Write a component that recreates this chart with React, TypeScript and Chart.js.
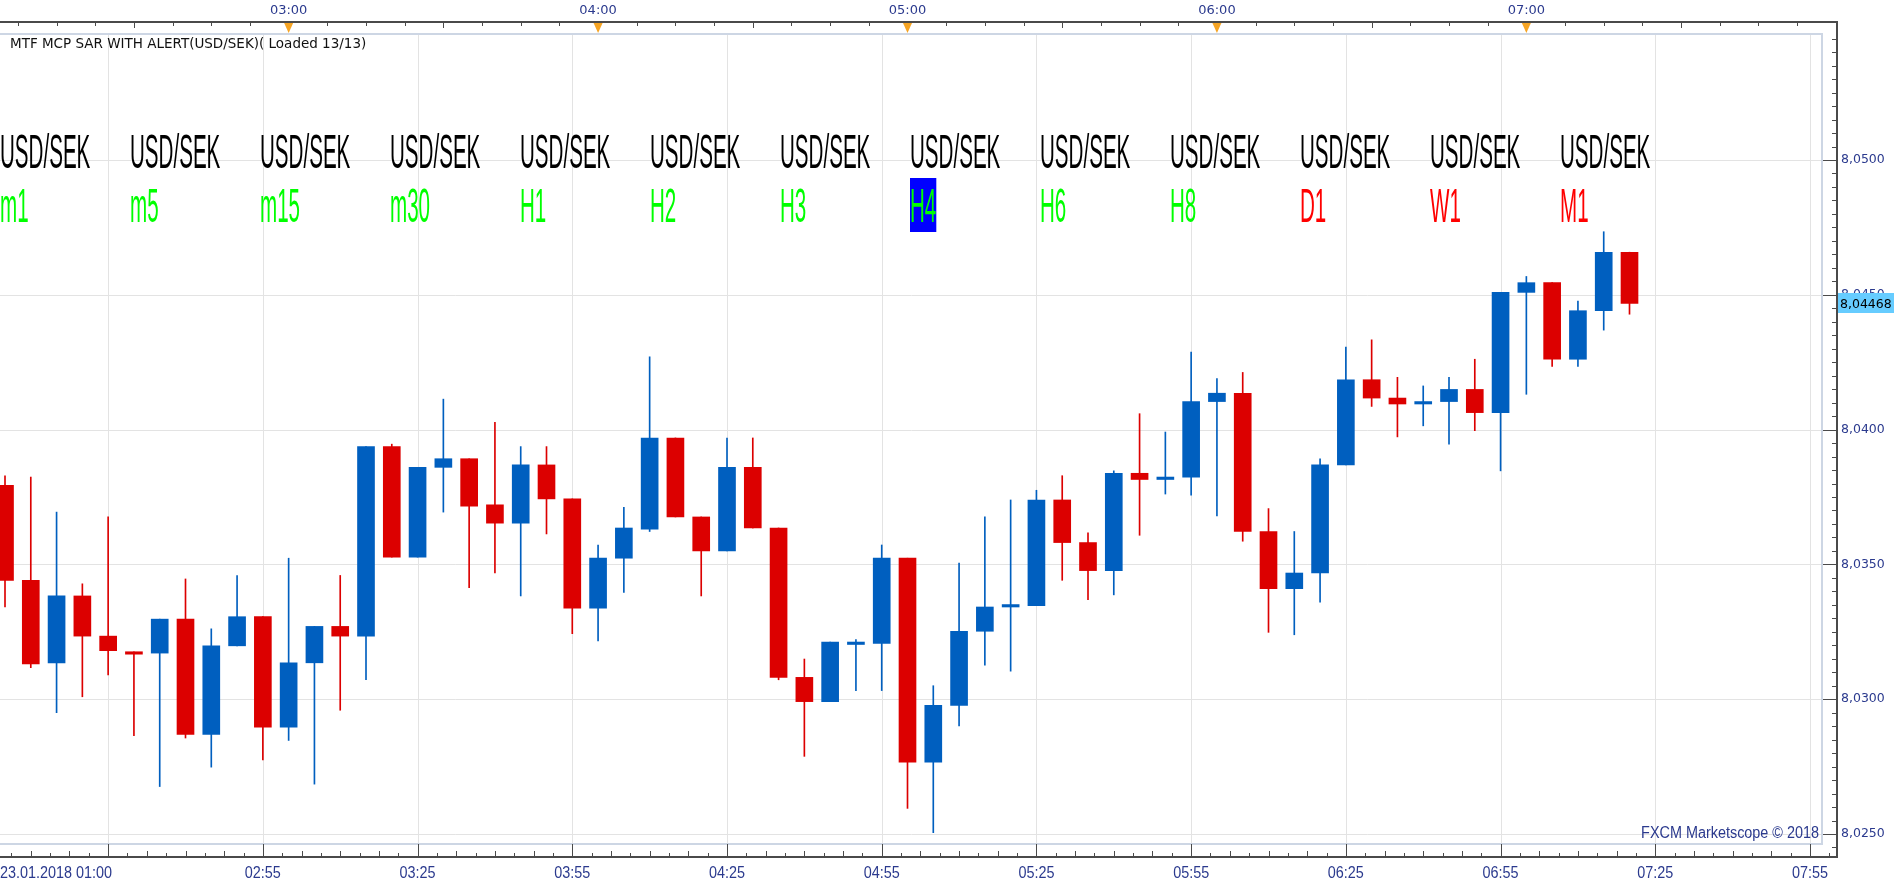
import React, { useEffect, useRef } from 'react';
import { Chart, registerables } from 'chart.js';

Chart.register(...registerables);

// ---------- DATA ----------
const opens = [
  8.03793, 8.03441, 8.03135, 8.03383, 8.03234, 8.03176, 8.03171, 8.03297, 8.02869, 8.03198,
  8.03306, 8.02896, 8.03135, 8.03270, 8.03234, 8.03937, 8.03527, 8.03860, 8.03892, 8.03721,
  8.03653, 8.03869, 8.03743, 8.03338, 8.03523, 8.03631, 8.03969, 8.03676, 8.03550, 8.03860,
  8.03635, 8.03081, 8.02991, 8.03203, 8.03207, 8.03523, 8.02766, 8.02977, 8.03252, 8.03342,
  8.03347, 8.03739, 8.03581, 8.03477, 8.03838, 8.03815, 8.03824, 8.04104, 8.04135, 8.03622,
  8.03410, 8.03468, 8.03869, 8.04185, 8.04117, 8.04095, 8.04104, 8.04149, 8.04063, 8.04509,
  8.04545, 8.04261, 8.04441, 8.04658,
];
const highs = [
  8.03829, 8.03824, 8.03694, 8.03428, 8.03676, 8.03176, 8.03297, 8.03446, 8.03261, 8.03459,
  8.03306, 8.03523, 8.03270, 8.03459, 8.03937, 8.03946, 8.03860, 8.04113, 8.03892, 8.04027,
  8.03937, 8.03937, 8.03743, 8.03572, 8.03712, 8.04270, 8.03969, 8.03676, 8.03969, 8.03969,
  8.03635, 8.03149, 8.03212, 8.03221, 8.03572, 8.03523, 8.03050, 8.03505, 8.03676, 8.03739,
  8.03775, 8.03829, 8.03617, 8.03847, 8.04059, 8.03991, 8.04288, 8.04189, 8.04212, 8.03707,
  8.03622, 8.03892, 8.04306, 8.04333, 8.04194, 8.04162, 8.04194, 8.04261, 8.04509, 8.04568,
  8.04545, 8.04477, 8.04734, 8.04658,
];
const lows = [
  8.03342, 8.03117, 8.02950, 8.03009, 8.03090, 8.02865, 8.02676, 8.02856, 8.02748, 8.03198,
  8.02775, 8.02847, 8.02685, 8.02959, 8.03072, 8.03527, 8.03527, 8.03694, 8.03414, 8.03468,
  8.03383, 8.03613, 8.03243, 8.03216, 8.03396, 8.03622, 8.03676, 8.03383, 8.03550, 8.03635,
  8.03072, 8.02788, 8.02991, 8.03032, 8.03032, 8.02595, 8.02505, 8.02901, 8.03126, 8.03104,
  8.03347, 8.03441, 8.03369, 8.03387, 8.03608, 8.03761, 8.03757, 8.03680, 8.03586, 8.03248,
  8.03239, 8.03360, 8.03869, 8.04086, 8.03973, 8.04014, 8.03946, 8.03996, 8.03847, 8.04131,
  8.04234, 8.04234, 8.04369, 8.04428,
];
const closes = [
  8.03441, 8.03131, 8.03383, 8.03234, 8.03180, 8.03167, 8.03297, 8.02869, 8.03198, 8.03306,
  8.02896, 8.03135, 8.03270, 8.03234, 8.03937, 8.03527, 8.03860, 8.03892, 8.03716, 8.03653,
  8.03869, 8.03743, 8.03338, 8.03523, 8.03635, 8.03969, 8.03676, 8.03550, 8.03860, 8.03635,
  8.03081, 8.02991, 8.03212, 8.03212, 8.03523, 8.02766, 8.02977, 8.03252, 8.03342, 8.03351,
  8.03739, 8.03581, 8.03477, 8.03838, 8.03815, 8.03824, 8.04104, 8.04135, 8.03622, 8.03410,
  8.03468, 8.03869, 8.04185, 8.04117, 8.04095, 8.04104, 8.04149, 8.04063, 8.04509, 8.04545,
  8.04261, 8.04441, 8.04658, 8.04468,
];

const currentPrice = 8.04468;
const yTickValues = [8.025, 8.03, 8.035, 8.04, 8.045, 8.05];
const yTickLabels = ['8,0250', '8,0300', '8,0350', '8,0400', '8,0450', '8,0500'];
const bottomTickIndex = [10, 16, 22, 28, 34, 40, 46, 52, 58, 64, 70];
const bottomTickLabels = ['02:55', '03:25', '03:55', '04:25', '04:55', '05:25', '05:55', '06:25', '06:55', '07:25', '07:55'];
const gridIndex = [4, 10, 16, 22, 28, 34, 40, 46, 52, 58, 64, 70];
const firstDateLabel = '23.01.2018 01:00';
const topTickIndex = [11, 23, 35, 47, 59];
const topTickLabels = ['03:00', '04:00', '05:00', '06:00', '07:00'];
const symbolNames = ['USD/SEK', 'USD/SEK', 'USD/SEK', 'USD/SEK', 'USD/SEK', 'USD/SEK', 'USD/SEK', 'USD/SEK', 'USD/SEK', 'USD/SEK', 'USD/SEK', 'USD/SEK', 'USD/SEK'];
const timeframes = ['m1', 'm5', 'm15', 'm30', 'H1', 'H2', 'H3', 'H4', 'H6', 'H8', 'D1', 'W1', 'M1'];
const timeframeTrend = ['up', 'up', 'up', 'up', 'up', 'up', 'up', 'up', 'up', 'up', 'down', 'down', 'down'];
const highlightedTimeframe = 'H4';
const indicatorTitle = 'MTF MCP SAR WITH ALERT(USD/SEK)( Loaded 13/13)';
const watermark = 'FXCM Marketscope © 2018';

// ---------- STYLE ----------
const BLUE = '#005fbf';
const RED = '#dc0000';
const GRID = '#e3e3e3';
const AXIS = '#4a4a4a';
const LABEL = '#2b3a8e';
const W = 1903;
const H = 887;

function drawScaledText(ctx: CanvasRenderingContext2D, text: string, x: number, y: number, font: string, color: string, align: string, sx: number, baseline: CanvasTextBaseline = 'alphabetic') {
  ctx.save();
  ctx.font = font;
  ctx.fillStyle = color;
  ctx.textBaseline = baseline;
  ctx.textAlign = 'left';
  const w = ctx.measureText(text).width * sx;
  const x0 = align === 'center' ? x - w / 2 : align === 'right' ? x - w : x;
  ctx.translate(x0, y);
  ctx.scale(sx, 1);
  ctx.fillText(text, 0, 0);
  ctx.restore();
  return w;
}

const decorPlugin = {
  id: 'decor',
  beforeDraw(chart: any) {
    const ctx = chart.ctx as CanvasRenderingContext2D;
    ctx.save();
    ctx.fillStyle = '#ffffff';
    ctx.fillRect(0, 0, chart.width, chart.height);
    ctx.restore();
  },
  beforeDatasetsDraw(chart: any) {
    const ctx = chart.ctx as CanvasRenderingContext2D;
    const { left, right, top, bottom } = chart.chartArea;
    const xs = chart.scales.x;
    const ys = chart.scales.y;
    ctx.save();
    ctx.strokeStyle = GRID;
    ctx.lineWidth = 1;
    yTickValues.forEach((v) => {
      const y = Math.round(ys.getPixelForValue(v)) + 0.5;
      ctx.beginPath();
      ctx.moveTo(left, y);
      ctx.lineTo(right, y);
      ctx.stroke();
    });
    gridIndex.forEach((i) => {
      const x = Math.round(xs.getPixelForValue(i)) + 0.5;
      ctx.beginPath();
      ctx.moveTo(x, top);
      ctx.lineTo(x, bottom);
      ctx.stroke();
    });
    ctx.restore();
  },
  afterDatasetsDraw(chart: any) {
    const ctx = chart.ctx as CanvasRenderingContext2D;
    const { left, right, top, bottom } = chart.chartArea;
    const xs = chart.scales.x;
    const ys = chart.scales.y;
    const axisX = right + 14;
    const topAxisY = top - 12;
    const bottomAxisY = bottom + 13;

    ctx.save();
    // plot frame
    ctx.strokeStyle = '#cdd6e4';
    ctx.lineWidth = 2;
    ctx.beginPath();
    ctx.moveTo(left, top);
    ctx.lineTo(right - 1, top);
    ctx.lineTo(right - 1, bottom);
    ctx.lineTo(left, bottom);
    ctx.stroke();

    // axis lines
    ctx.strokeStyle = AXIS;
    ctx.lineWidth = 2;
    ctx.beginPath();
    ctx.moveTo(0, topAxisY);
    ctx.lineTo(axisX, topAxisY);
    ctx.lineTo(axisX, bottomAxisY);
    ctx.lineTo(0, bottomAxisY);
    ctx.stroke();

    // top ticks
    ctx.lineWidth = 1;
    for (let v = 0.5; v <= 71; v += 1.5) {
      const x = Math.round(xs.getPixelForValue(v)) + 0.5;
      const long = Math.abs(((v - 5) % 6 + 6) % 6) < 0.01;
      ctx.beginPath();
      ctx.moveTo(x, topAxisY);
      ctx.lineTo(x, topAxisY + (long ? 6 : 4));
      ctx.stroke();
    }
    // bottom ticks
    for (let k = 0; ; k++) {
      const v = 4 + k * 0.75 - 6;
      if (v > 71) break;
      if (v < -0.2) continue;
      const x = Math.round(xs.getPixelForValue(v)) + 0.5;
      const isMajor = k % 8 === 0;
      const len = isMajor ? 13 : k % 2 === 0 ? 6 : 4;
      ctx.beginPath();
      ctx.moveTo(x, bottomAxisY);
      ctx.lineTo(x, bottomAxisY - len);
      ctx.stroke();
    }
    // right ticks
    for (let v = 8.0245; v < 8.0549; v += 0.0005) {
      const y = Math.round(ys.getPixelForValue(v)) + 0.5;
      if (y < topAxisY || y > bottomAxisY) continue;
      const isMajor = Math.abs(v * 200 - Math.round(v * 200)) < 1e-6;
      ctx.beginPath();
      ctx.moveTo(axisX, y);
      ctx.lineTo(isMajor ? right : axisX - 5, y);
      ctx.stroke();
    }

    // top triangles + labels
    topTickIndex.forEach((i, n) => {
      const x = xs.getPixelForValue(i);
      ctx.fillStyle = '#f6a423';
      ctx.beginPath();
      ctx.moveTo(x - 4.5, topAxisY + 1);
      ctx.lineTo(x + 4.5, topAxisY + 1);
      ctx.lineTo(x, topAxisY + 11);
      ctx.closePath();
      ctx.fill();
      drawScaledText(ctx, topTickLabels[n], x, 11, '13px "DejaVu Sans"', LABEL, 'center', 1, 'middle');
    });

    // right labels
    yTickValues.forEach((v, n) => {
      const y = ys.getPixelForValue(v);
      drawScaledText(ctx, yTickLabels[n], axisX + 4, y, '12.5px "DejaVu Sans"', LABEL, 'left', 1, 'middle');
    });
    // current price label
    const py = ys.getPixelForValue(currentPrice);
    ctx.fillStyle = '#66ccff';
    ctx.fillRect(axisX + 1, Math.round(py) - 10, 56, 20);
    drawScaledText(ctx, currentPrice.toFixed(5).replace('.', ','), axisX + 3, py + 1, '12.5px "DejaVu Sans"', '#000000', 'left', 1, 'middle');

    // bottom labels
    drawScaledText(ctx, firstDateLabel, 0, bottomAxisY + 17, '16px "Liberation Sans"', LABEL, 'left', 0.9, 'middle');
    bottomTickIndex.forEach((i, n) => {
      const x = xs.getPixelForValue(i);
      drawScaledText(ctx, bottomTickLabels[n], x, bottomAxisY + 17, '16px "Liberation Sans"', LABEL, 'center', 0.9, 'middle');
    });

    // watermark
    drawScaledText(ctx, watermark, right - 4, bottom - 10, '16px "Liberation Sans"', LABEL, 'right', 0.9, 'middle');

    // indicator title
    drawScaledText(ctx, indicatorTitle, 10, top + 10, '13.5px "DejaVu Sans"', '#111111', 'left', 1, 'middle');

    // MTF labels
    const bigFont = '49px "Liberation Sans"';
    const sx = 0.42;
    symbolNames.forEach((s, k) => {
      const x = left + k * 130;
      drawScaledText(ctx, s, x, 168, bigFont, '#000000', 'left', sx);
      const tf = timeframes[k];
      ctx.font = bigFont;
      const tw = ctx.measureText(tf).width * sx;
      if (tf === highlightedTimeframe) {
        ctx.fillStyle = '#0000ff';
        ctx.fillRect(x, 222 - 44, tw, 54);
      }
      drawScaledText(ctx, tf, x, 222, bigFont, timeframeTrend[k] === 'up' ? '#00ff00' : '#ff0000', 'left', sx);
    });
    ctx.restore();
  },
};

export default function App() {
  const ref = useRef<HTMLCanvasElement | null>(null);
  useEffect(() => {
    if (!ref.current) return;
    const colors = opens.map((o, i) => (closes[i] >= o ? BLUE : RED));
    const chart = new Chart(ref.current, {
      type: 'bar',
      data: {
        datasets: [
          {
            label: 'body',
            data: opens.map((o, i) => ({ x: i, y: [o, closes[i]] })) as any,
            backgroundColor: colors,
            borderWidth: 0,
            barThickness: 17,
            minBarLength: 2,
            grouped: false,
          } as any,
          {
            label: 'wick',
            data: lows.map((l, i) => ({ x: i, y: [l, highs[i]] })) as any,
            backgroundColor: colors,
            borderWidth: 0,
            barThickness: 1,
            grouped: false,
          } as any,
        ],
      },
      options: {
        responsive: false,
        devicePixelRatio: 1,
        animation: false,
        events: [],
        layout: { padding: { left: 0, top: 34, right: 80, bottom: 43 } },
        scales: {
          x: { type: 'linear', display: false, min: -0.194, max: 70.504, offset: false, grid: { offset: false } } as any,
          y: { type: 'linear', display: false, min: 8.024629, max: 8.054674, beginAtZero: false },
        },
        plugins: { legend: { display: false }, tooltip: { enabled: false } },
      },
      plugins: [decorPlugin],
    });
    return () => chart.destroy();
  }, []);
  return (
    <div style={{ position: 'absolute', left: 0, top: 0, width: W, height: H, background: '#fff' }}>
      <canvas ref={ref} width={W} height={H} style={{ display: 'block', width: W, height: H }} />
    </div>
  );
}
